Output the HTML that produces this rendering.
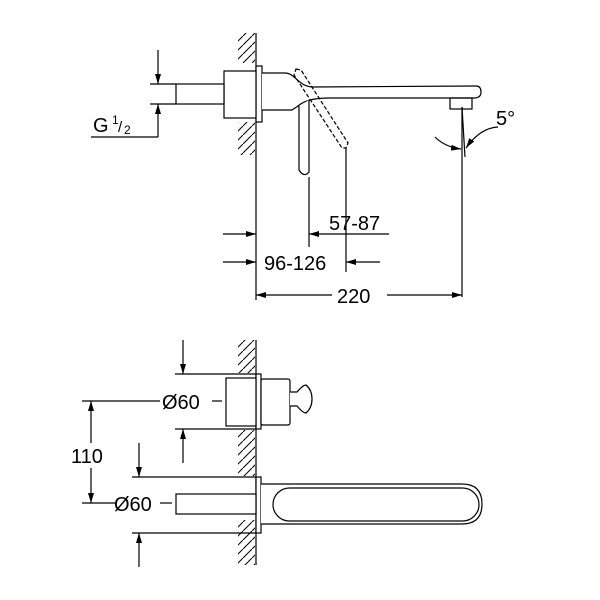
<!DOCTYPE html>
<html><head><style>html,body{margin:0;padding:0;background:#fff}svg{display:block}text{font-family:"Liberation Sans",sans-serif;fill:#000}</style></head>
<body>
<svg width="600" height="600" viewBox="0 0 600 600" xmlns="http://www.w3.org/2000/svg">
<defs>
<marker id="a" viewBox="0 0 10 6" refX="10" refY="3" markerWidth="10" markerHeight="6" orient="auto" markerUnits="userSpaceOnUse"><path d="M0,0 L10,3 L0,6 Z" fill="#000"/></marker>
<pattern id="h" width="9" height="9" patternUnits="userSpaceOnUse"><path d="M-2,11 L11,-2" stroke="#000" stroke-width="1"/></pattern>
</defs>
<g stroke="#000" stroke-width="1.2" fill="none">
<!-- TOP VIEW -->
<rect x="238" y="33" width="17" height="30" fill="url(#h)" stroke="none"/>
<rect x="238" y="122" width="17" height="33" fill="url(#h)" stroke="none"/>
<line x1="256" y1="33" x2="256" y2="300"/>
<rect x="256" y="66" width="6" height="56" fill="#fff"/>
<rect x="224" y="71" width="32" height="47" fill="#fff"/>
<rect x="176" y="84" width="48" height="20" fill="#fff"/>
<path d="M262,73 L285,73 C295,73 298,86 312,87 L476,86 Q481,86 481,92 Q481,98 474,98 L330,98 C315,98 305,100 298,106 L292,110 L262,110" fill="#fff"/>
<path d="M299,106 L299,170 Q304,178 309,172 L309,100" fill="#fff"/>
<rect x="450" y="98" width="22" height="11" />
<path d="M296,69 L301,70 L348,143 L346,148 L342,148 L294,75 Z" stroke-dasharray="4,2"/>
<!-- G1/2 -->
<line x1="150" y1="84" x2="176" y2="84"/><line x1="150" y1="104" x2="176" y2="104"/>
<line x1="158" y1="50" x2="158" y2="84" marker-end="url(#a)"/>
<line x1="158" y1="137" x2="158" y2="104" marker-end="url(#a)"/>
<line x1="91" y1="137" x2="158" y2="137"/>
<!-- 5 deg -->
<line x1="462" y1="107" x2="462" y2="297"/>
<line x1="462" y1="107" x2="465" y2="157"/>
<path d="M435,137 Q445,147 461,149" marker-end="url(#a)"/>
<path d="M498,127 Q480,128 466,148" marker-end="url(#a)"/>
<!-- 57-87 / 96-126 / 220 -->
<line x1="309" y1="177" x2="309" y2="247"/>
<line x1="346" y1="148" x2="346" y2="272"/>
<line x1="389" y1="234" x2="309" y2="234" marker-end="url(#a)"/>
<line x1="223" y1="234" x2="256" y2="234" marker-end="url(#a)"/>
<line x1="223" y1="262" x2="256" y2="262" marker-end="url(#a)"/>
<line x1="380" y1="262" x2="346" y2="262" marker-end="url(#a)"/>
<line x1="332" y1="295" x2="256" y2="295" marker-end="url(#a)"/>
<line x1="387" y1="295" x2="462" y2="295" marker-end="url(#a)"/>
<!-- BOTTOM VIEW -->
<rect x="238" y="340" width="17" height="33" fill="url(#h)" stroke="none"/>
<rect x="238" y="430" width="17" height="46" fill="url(#h)" stroke="none"/>
<rect x="238" y="520" width="17" height="45" fill="url(#h)" stroke="none"/>
<line x1="256" y1="340" x2="256" y2="565"/>
<rect x="256" y="374" width="5" height="55" fill="#fff"/>
<rect x="226" y="378" width="30" height="48" fill="#fff"/>
<rect x="261" y="379" width="29" height="46" rx="2" fill="#fff"/>
<path d="M290,392 L297,392 Q303,385 306,385 Q312,390 312,399 Q312,408 306,413 Q303,413 297,406 L290,406" fill="#fff"/>
<line x1="175" y1="374" x2="256" y2="374"/><line x1="175" y1="429" x2="256" y2="429"/>
<line x1="183" y1="340" x2="183" y2="374" marker-end="url(#a)"/>
<line x1="183" y1="463" x2="183" y2="429" marker-end="url(#a)"/>
<line x1="82" y1="401" x2="160" y2="401"/><line x1="212" y1="401" x2="222" y2="401"/>
<line x1="82" y1="503" x2="115" y2="503"/><line x1="160" y1="503" x2="172" y2="503"/>
<line x1="91" y1="443" x2="91" y2="401" marker-end="url(#a)"/>
<line x1="91" y1="468" x2="91" y2="503" marker-end="url(#a)"/>
<rect x="256" y="477" width="5" height="56" fill="#fff"/>
<rect x="176" y="494" width="80" height="20" fill="#fff"/>
<path d="M261,484 L462,484 Q482,484 482,504 Q482,524 462,524 L261,524" fill="#fff"/>
<rect x="273" y="488" width="206" height="33" rx="16.5"/>
<line x1="132" y1="477" x2="256" y2="477"/><line x1="132" y1="533" x2="256" y2="533"/>
<line x1="139" y1="443" x2="139" y2="477" marker-end="url(#a)"/>
<line x1="139" y1="567" x2="139" y2="533" marker-end="url(#a)"/>
</g>
<text x="93" y="132" font-size="20">G</text><text x="112" y="124" font-size="12">1</text><text x="118" y="132" font-size="15">/</text><text x="124" y="134" font-size="12">2</text>
<text x="496" y="125" font-size="20">5°</text>
<text x="329" y="230" font-size="20">57-87</text>
<text x="264" y="270" font-size="20">96-126</text>
<text x="337" y="303" font-size="20">220</text>
<text x="162" y="409" font-size="20">Ø60</text>
<text x="114" y="511" font-size="20">Ø60</text>
<text x="71" y="463" font-size="20">110</text>
</svg>
</body></html>
